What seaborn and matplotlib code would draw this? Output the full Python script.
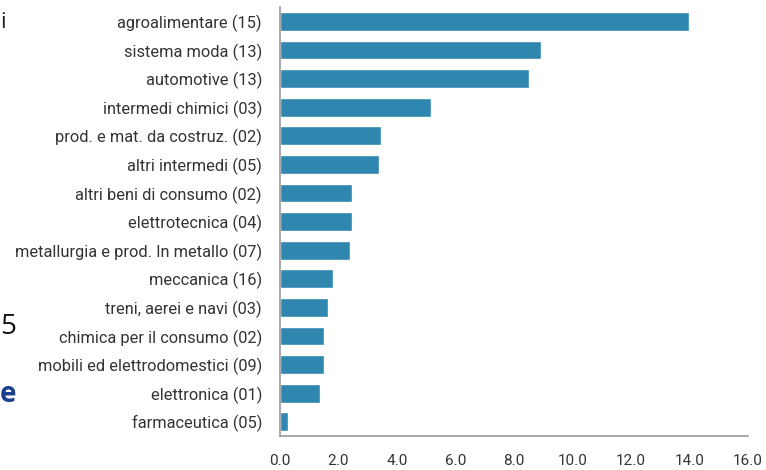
import pandas as pd
import seaborn as sns
import matplotlib.pyplot as plt


# Sectors (with number of firms) and values
sectors = [
    "agroalimentare (15)",
    "sistema moda (13)",
    "automotive (13)",
    "intermedi chimici (03)",
    "prod. e mat. da costruz. (02)",
    "altri intermedi (05)",
    "altri beni di consumo (02)",
    "elettrotecnica (04)",
    "metallurgia e prod. In metallo (07)",
    "meccanica (16)",
    "treni, aerei e navi (03)",
    "chimica per il consumo (02)",
    "mobili ed elettrodomestici (09)",
    "elettronica (01)",
    "farmaceutica (05)",
]
values = [14.0, 8.93, 8.53, 5.17, 3.45, 3.37, 2.45, 2.45, 2.41,
          1.81, 1.65, 1.52, 1.52, 1.38, 0.29]
x_ticks = [0, 2, 4, 6, 8, 10, 12, 14, 16]

df = pd.DataFrame({"settore": sectors, "valore": values})

sns.set_style("white")
plt.rcParams["font.family"] = ["Roboto", "DejaVu Sans"]

fig = plt.figure(figsize=(7.66, 4.7), dpi=100)
ax = fig.add_axes([0.3655, 0.072, 0.611, 0.913])

sns.barplot(data=df, x="valore", y="settore", color="#2f87b0",
            saturation=1, width=0.66, ax=ax)

ax.set_xlim(0, 16)
ax.set_ylim(14.5, -0.5)
ax.set_xticks(x_ticks)
ax.set_xticklabels([f"{t:.1f}" for t in x_ticks], fontsize=11,
                   color="#333333")
ax.tick_params(axis="x", length=0, pad=13)
ax.tick_params(axis="y", length=0, pad=13, labelsize=11.8, labelcolor="#333333")
ax.set_xlabel("")
ax.set_ylabel("")

for side in ["top", "right"]:
    ax.spines[side].set_visible(False)
for side in ["left", "bottom"]:
    ax.spines[side].set_color("#999999")
    ax.spines[side].set_linewidth(1.2)

# fragments of the slide text at the left edge
fig.text(0.0, 0.94, "i", fontsize=16, color="#222222", family="Open Sans")
fig.text(0.0, 0.29, "5", fontsize=20, color="#111111", family="Open Sans")
fig.text(0.0, 0.145, "e", fontsize=20, color="#1a3d8f",
         family="Open Sans", weight="bold")

fig.savefig("out.png", dpi=100)
